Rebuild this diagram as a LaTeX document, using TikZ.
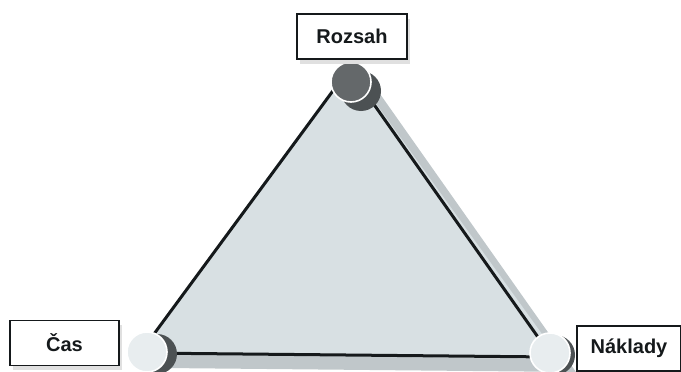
\documentclass[tikz,border=0pt]{standalone}
\usepackage{fontspec}
\setmainfont{Liberation Sans}
\usetikzlibrary{calc,positioning}
\definecolor{triInk}{HTML}{15191B}
\definecolor{triFill}{HTML}{D8E0E3}
\definecolor{triShade}{HTML}{C0C7CA}
\definecolor{dotDark}{HTML}{64686A}
\definecolor{dotLight}{HTML}{E8EDEF}
\definecolor{dotShade}{HTML}{4C5153}
\tikzset{
  edge/.style     = {line width=3pt, color=triInk, line cap=round},
  dot/.style      = {circle, minimum size=40pt, inner sep=0, draw=white,
                     line width=1.6pt},
  dotshadow/.style= {circle, minimum size=40pt, inner sep=0, fill=dotShade},
  labelbox/.style = {draw=triInk, line width=1.4pt, fill=white, inner sep=0,
                     minimum height=45pt, text=triInk,
                     font=\bfseries\fontsize{20}{24}\selectfont},
  boxshadow/.style= {fill=black!12, inner sep=0, minimum height=45pt},
}

\begin{document}
\begin{tikzpicture}[x=1pt, y=-1pt]
\useasboundingbox (0,0) rectangle (681,372);

% corners of the triangle (pixel grid of the reference)
\coordinate (apex)  at (349,69);
\coordinate (left)  at (140,353);
\coordinate (right) at (552,357);

% --- body: shadow, then the grey face ---
\fill[triShade] ($(apex)+(24,15)$) -- ($(left)+(24,15)$) -- ($(right)+(24,15)$) -- cycle;
\fill[triFill] (349,66) -- (138,354) -- (560,359) -- cycle;

% --- edges ---
\draw[edge] (apex) -- (left);
\draw[edge] (apex) -- (right);
\draw[edge] (left) -- (right);

% --- corner dots ---
\node[dotshadow] at (361,91) {};
\node[dot, fill=dotDark] (rozsahDot) at (351,82) {};
\node[dotshadow] at (157,354) {};
\node[dot, fill=dotLight] (casDot) at (147,352) {};
\node[dotshadow] at (555,355) {};
\node[dot, fill=dotLight] (nakladyDot) at (550,353) {};

% --- labels ---
\node[boxshadow, minimum width=110pt] at (355,41) {};
\node[labelbox, minimum width=110pt] (rozsah) at (352,36.5) {Rozsah};
\node[boxshadow, minimum width=109pt] at (67,347) {};
\node[labelbox, minimum width=109pt] (cas) at (64.5,343) {Čas};
\node[labelbox, minimum width=104pt] (naklady) at (629,348.5) {Náklady};

\end{tikzpicture}
\end{document}
